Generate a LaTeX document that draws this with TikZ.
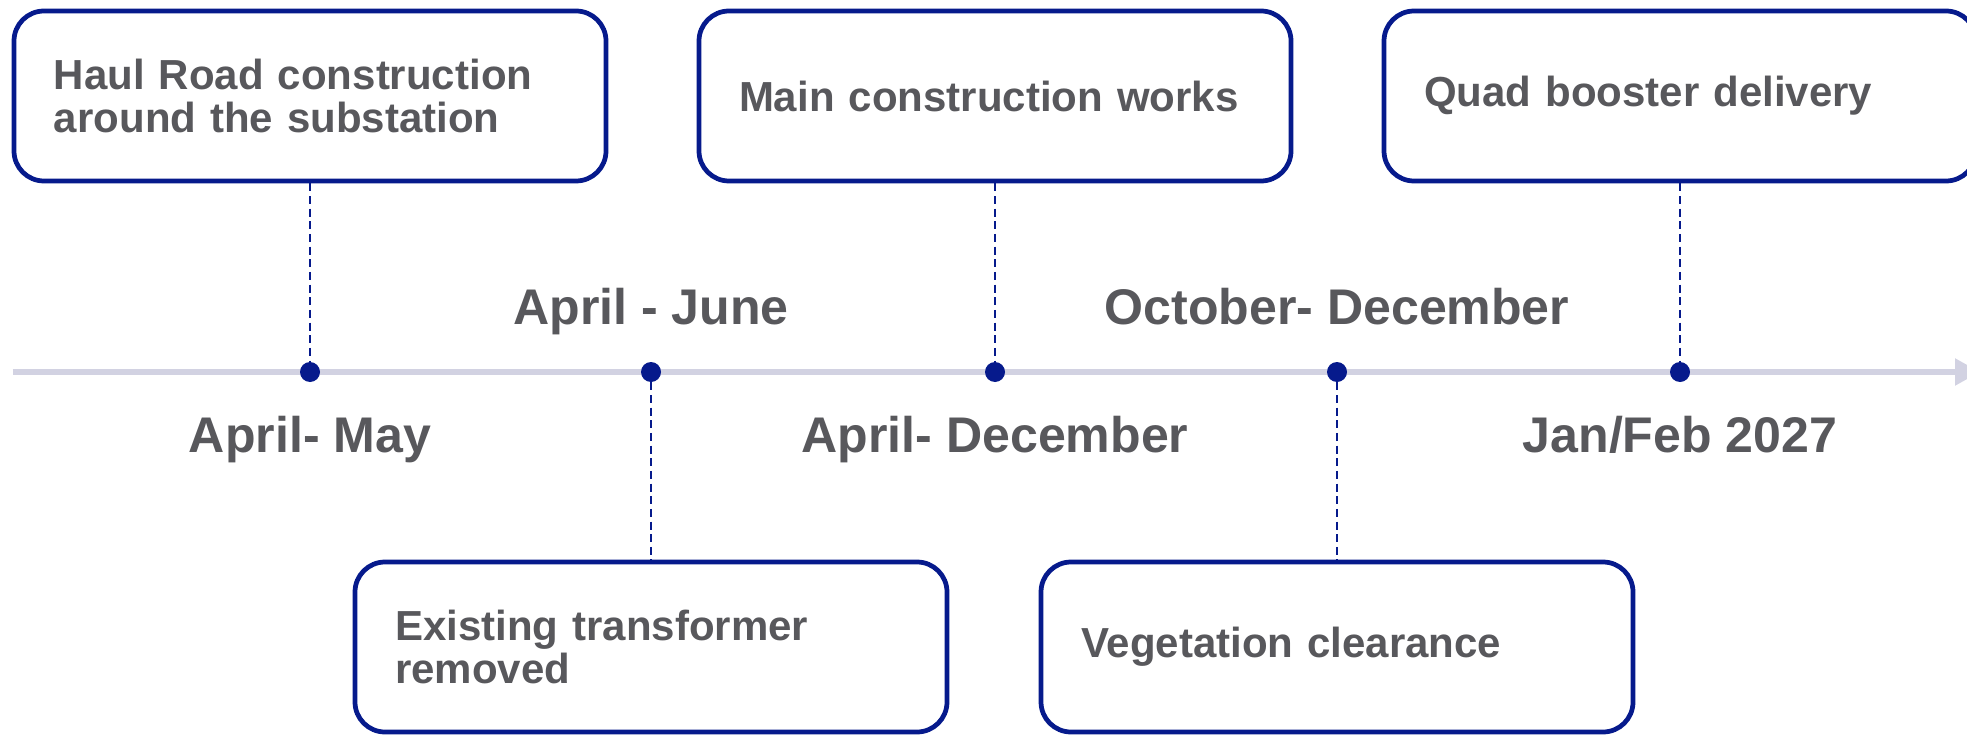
\documentclass[tikz,border=0pt]{standalone}
\usepackage{fontspec}
\setmainfont{Liberation Sans}
\usetikzlibrary{arrows.meta}
\definecolor{navy}{HTML}{061A8C}
\definecolor{greytext}{HTML}{58585C}
\definecolor{axisgrey}{HTML}{D2D2E2}

\begin{document}
\begin{tikzpicture}[
        taskbox/.style={draw=navy, line width=2.7pt, rounded corners=0.6cm, fill=white,
            minimum width=11.84cm, minimum height=3.4cm, text width=10.24cm,
            inner xsep=0.8cm, align=left, text=greytext,
            font=\fontsize{23.9pt}{25pt}\selectfont\bfseries},
        datelabel/.style={anchor=base, text=greytext,
            font=\fontsize{28.5pt}{30pt}\selectfont\bfseries},
        milestone/.style={circle, fill=navy, minimum size=0.4cm, inner sep=0pt},
        leader/.style={draw=navy, line width=1.1pt, dash pattern=on 4.6pt off 2.6pt},
        timeline/.style={draw=axisgrey, line width=3pt, -{Triangle[length=0.5cm, width=0.52cm]}}
    ]
        \useasboundingbox (0,0) rectangle (39.34,14.68);
        \clip (0,0) rectangle (39.34,14.68);

        % Time axis
        \coordinate (axisstart) at (0.25,7.24);
        \coordinate (axisend) at (39.6,7.24);
        \draw[timeline] (axisstart) -- (axisend);

        % Milestones on the axis
        \node[milestone] (m1) at (6.2,7.24) {};
        \node[milestone] (m2) at (13.02,7.24) {};
        \node[milestone] (m3) at (19.9,7.24) {};
        \node[milestone] (m4) at (26.74,7.24) {};
        \node[milestone] (m5) at (33.6,7.24) {};

        % Tasks above the axis
        \node[taskbox] (haulroad) at (6.2,12.76) {Haul Road construction\\around the substation};
        \node[taskbox] (mainworks) at (19.9,12.76) {Main construction works};
        \node[taskbox] (booster) at (33.6,12.76) {Quad booster delivery};

        % Tasks below the axis
        \node[taskbox] (transformer) at (13.02,1.74) {Existing transformer\\removed};
        \node[taskbox] (vegetation) at (26.74,1.74) {Vegetation clearance};

        % Leaders from tasks to milestones
        \draw[leader] (haulroad) -- (m1);
        \draw[leader] (m2) -- (transformer);
        \draw[leader] (mainworks) -- (m3);
        \draw[leader] (m4) -- (vegetation);
        \draw[leader] (booster) -- (m5);

        % Dates
        \node[datelabel] (date1) at (6.2,5.64) {April- May};
        \node[datelabel] (date2) at (13.02,8.19) {April - June};
        \node[datelabel] (date3) at (19.9,5.64) {April- December};
        \node[datelabel] (date4) at (26.74,8.19) {October- December};
        \node[datelabel] (date5) at (33.6,5.64) {Jan/Feb 2027};
    \end{tikzpicture}
\end{document}
